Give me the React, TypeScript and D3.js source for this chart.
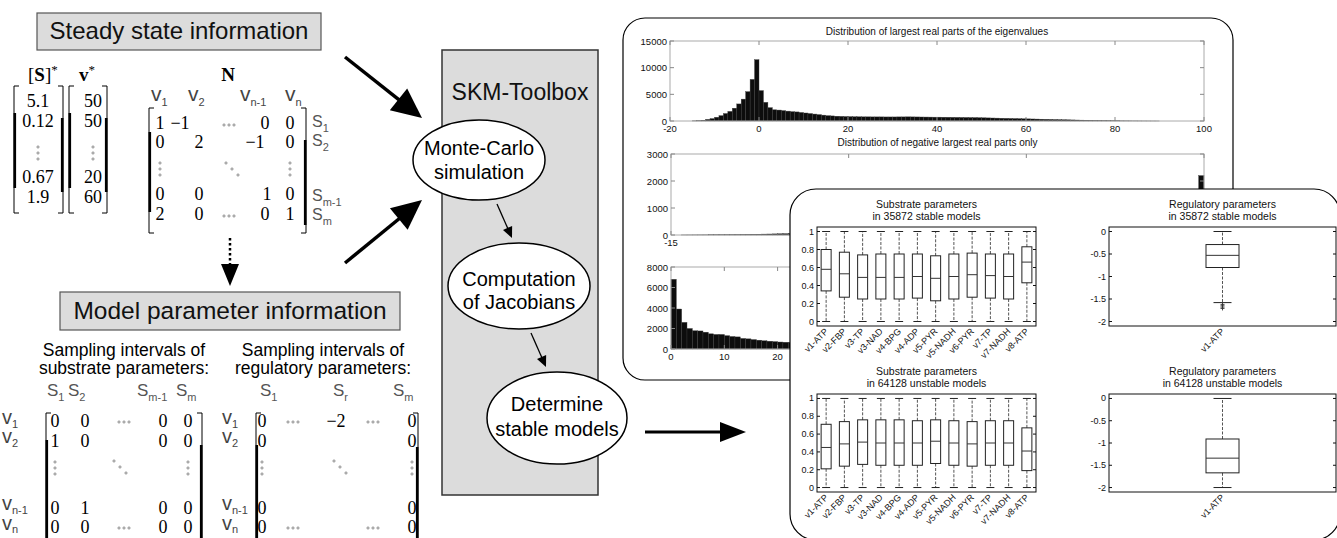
import React from 'react';
import * as d3 from 'd3';

const SANS = '"Liberation Sans", Arial, Helvetica, sans-serif';
const SERIF = '"Liberation Serif", "Times New Roman", serif';

// Largest real part of the eigenvalues, all sampled models (unit bins from -15)
const allRealStart = -15;
const allRealBinWidth = 1;
const allRealCounts = [
  30, 60, 150, 300, 450, 700, 1000, 1400, 1800, 2400, 3200, 4100, 5500, 7800, 11500,
  5700, 3500, 2500, 2100, 2050, 1950, 1850, 1750, 1700, 1600, 1500, 1400, 1300, 1200, 1100,
  1000, 950, 900, 870, 840,
  820, 800, 790, 780, 780, 770, 770, 770, 760, 760,
  760, 770, 770, 780, 770, 760, 750, 740, 730, 720,
  720, 710, 700, 690, 680, 670, 660, 650, 640, 620,
  600, 580, 560, 540, 520, 500, 480, 460, 440, 420,
  400, 380, 360, 340, 320, 300, 280, 260, 240, 220,
  200, 180, 160, 140, 120, 100, 85, 70, 60, 50,
  40, 35, 30, 25, 20, 15, 10, 8, 5, 3,
];
const allRealXTicks = [-20, 0, 20, 40, 60, 80, 100];
const allRealYTicks = [0, 5000, 10000, 15000];

// Negative largest real parts only (bins of 0.15 between -15 and 0)
const negRealStart = -15;
const negRealBinWidth = 0.15;
const negRealCounts = [
  0, 0, 2, 3, 4, 5, 6, 8, 9, 11,
  13, 15, 17, 20, 23, 26, 29, 33, 37, 41,
  45, 49, 53, 58, 63, 68, 74, 80, 86, 92,
  98, 105, 112, 120, 128, 136, 145, 154, 163, 172,
  182, 192, 203, 214, 225, 237, 249, 262, 275, 289,
  303, 318, 333, 349, 365, 382, 400, 418, 437, 457,
  478, 499, 521, 544, 568, 593, 619, 646, 674, 703,
  733, 764, 796, 829, 863, 898, 934, 971, 1009, 1048,
  1088, 1129, 1171, 1214, 1258, 1303, 1349, 1396, 1444, 1493,
  1520, 1540, 1560, 1580, 1590, 1600, 1590, 1560, 1500, 2200,
];
const negRealXTicks = [-15, -10, -5, 0];
const negRealYTicks = [0, 1000, 2000, 3000];

// Positive largest real parts only (unit bins from 0)
const posRealStart = 0;
const posRealBinWidth = 1;
const posRealCounts = [
  6800, 3900, 2600, 2000, 1780, 1760, 1640, 1480, 1420, 1420,
  1300, 1220, 1180, 1030, 990, 920, 860, 800, 760, 720,
  680, 660, 650, 640, 630, 620, 610, 600, 600, 590,
  590, 600, 600, 610, 600, 590, 580, 570, 560, 550,
  540, 530, 520, 510, 500, 490, 480, 470, 450, 440,
  420, 400, 390, 370, 350, 330, 320, 300, 280, 260,
  250, 230, 210, 200, 180, 170, 150, 140, 120, 110,
  100, 90, 80, 70, 60, 50, 45, 40, 35, 30,
  25, 20, 18, 15, 12, 10, 8, 6, 4, 2,
];
const posRealXTicks = [0, 10, 20, 30, 40, 50, 60, 70, 80, 90, 100];
const posRealYTicks = [0, 2000, 4000, 6000, 8000];

// Substrate parameter boxplots
const substrateParams = [
  'v1-ATP', 'v2-FBP', 'v3-TP', 'v3-NAD', 'v4-BPG', 'v4-ADP',
  'v5-PYR', 'v5-NADH', 'v6-PYR', 'v7-TP', 'v7-NADH', 'v8-ATP',
];
const substrateLow = [0, 0, 0, 0, 0, 0, 0, 0, 0, 0, 0, 0];
const substrateHigh = [1, 1, 1, 1, 1, 1, 1, 1, 1, 1, 1, 1];
const stableQ1 = [0.34, 0.27, 0.25, 0.25, 0.25, 0.26, 0.23, 0.25, 0.27, 0.26, 0.25, 0.43];
const stableMedian = [0.58, 0.53, 0.49, 0.49, 0.49, 0.5, 0.48, 0.5, 0.52, 0.51, 0.5, 0.66];
const stableQ3 = [0.8, 0.77, 0.74, 0.75, 0.75, 0.75, 0.73, 0.75, 0.76, 0.75, 0.75, 0.83];
const unstableQ1 = [0.21, 0.24, 0.26, 0.25, 0.25, 0.25, 0.27, 0.25, 0.24, 0.25, 0.25, 0.19];
const unstableMedian = [0.45, 0.49, 0.51, 0.5, 0.5, 0.5, 0.52, 0.5, 0.49, 0.5, 0.5, 0.41];
const unstableQ3 = [0.71, 0.74, 0.76, 0.76, 0.76, 0.75, 0.76, 0.75, 0.74, 0.75, 0.75, 0.67];
const substrateYTicks = [0, 0.2, 0.4, 0.6, 0.8, 1];

// Regulatory parameter boxplots
const regulatoryParams = ['v1-ATP'];
const regStableLow = [-1.58];
const regStableQ1 = [-0.8];
const regStableMedian = [-0.53];
const regStableQ3 = [-0.29];
const regStableHigh = [0];
const regStableOutliers = [-1.62, -1.65, -1.68, -1.71];
const regUnstableLow = [-2];
const regUnstableQ1 = [-1.67];
const regUnstableMedian = [-1.34];
const regUnstableQ3 = [-0.91];
const regUnstableHigh = [0];
const regulatoryYTicks = [-2, -1.5, -1, -0.5, 0];

type Pt = [number, number];

function Arrow({ x1, y1, x2, y2, head, half, width, dash }: any) {
  const dx = x2 - x1, dy = y2 - y1;
  const L = Math.hypot(dx, dy);
  const ux = dx / L, uy = dy / L;
  const bx = x2 - ux * head, by = y2 - uy * head;
  const px = -uy, py = ux;
  return (
    <g>
      <line x1={x1} y1={y1} x2={bx + ux * 2} y2={by + uy * 2} stroke="#000" strokeWidth={width}
        strokeDasharray={dash} />
      <path d={`M${x2},${y2}L${bx + px * half},${by + py * half}L${bx - px * half},${by - py * half}Z`} fill="#000" />
    </g>
  );
}

function Sub({ x, y, base, sub, size = 16, subSize = 11, fill = '#555', anchor = 'start', dy = 5 }: any) {
  return (
    <text x={x} y={y} fontSize={size} fill={fill} textAnchor={anchor} fontFamily={SANS}>
      {base}
      <tspan fontSize={subSize} dy={dy}>{sub}</tspan>
    </text>
  );
}

function Dots({ pts }: { pts: Pt[] }) {
  return (
    <g>
      {pts.map(([x, y], i) => (
        <circle key={i} cx={x} cy={y} r={1.1} fill="#fff" stroke="#666" strokeWidth={0.7} />
      ))}
    </g>
  );
}
const hdots = (x: number, y: number): Pt[] => [[x, y], [x + 5, y], [x + 10, y]];
const vdots = (x: number, y: number): Pt[] => [[x, y], [x, y + 6], [x, y + 12]];
const ddots = (x: number, y: number): Pt[] => [[x, y], [x + 6, y + 6], [x + 12, y + 12]];

function Bracket({ x, y1, y2, side, t1, t2, hook = 5 }: any) {
  const dir = side === 'left' ? 1 : -1;
  return (
    <g>
      <path d={`M${x + dir * hook},${y1}H${x}V${y2}H${x + dir * hook}`} fill="none" stroke="#000" strokeWidth={1} />
      <line x1={x + dir * 0.8} x2={x + dir * 0.8} y1={t1} y2={t2} stroke="#000" strokeWidth={2.6} />
    </g>
  );
}

function Num({ x, y, t }: any) {
  return <text x={x} y={y} fontSize={18} fontFamily={SERIF} textAnchor="middle" fill="#000">{t}</text>;
}

function LeftDiagram() {
  const sCol = ['5.1', '0.12', '0.67', '1.9'];
  const vCol = ['50', '50', '20', '60'];
  const colY = [107, 127, 183, 203];
  return (
    <g>
      {/* steady state information */}
      <rect x={37} y={13} width={284} height={37} fill="#dcdcdc" stroke="#555" strokeWidth={1.2} />
      <text x={179} y={39} fontSize={24} textAnchor="middle" fill="#111">Steady state information</text>

      <text x={28} y={81} fontSize={19} fontFamily={SERIF}>[<tspan fontWeight="bold">S</tspan>]<tspan fontSize={13} dy={-7}>*</tspan></text>
      <text x={79} y={81} fontSize={19} fontFamily={SERIF} fontWeight="bold">v<tspan fontSize={13} dy={-7} fontWeight="normal">*</tspan></text>
      <text x={228} y={81} fontSize={19} fontFamily={SERIF} fontWeight="bold" textAnchor="middle">N</text>

      <Bracket x={14} y1={86} y2={213} side="left" t1={113} t2={188} />
      <Bracket x={63} y1={86} y2={213} side="right" t1={118} t2={192} />
      {sCol.map((t, i) => <Num key={i} x={38} y={colY[i]} t={t} />)}
      <Dots pts={vdots(38, 147)} />

      <Bracket x={69} y1={86} y2={213} side="left" t1={113} t2={188} />
      <Bracket x={107} y1={86} y2={213} side="right" t1={118} t2={192} />
      {vCol.map((t, i) => <Num key={i} x={93} y={colY[i]} t={t} />)}
      <Dots pts={vdots(93, 147)} />

      {/* stoichiometric matrix N */}
      <Sub x={151} y={101} base="v" sub="1" size={21} fill="#444" />
      <Sub x={188} y={101} base="v" sub="2" size={21} fill="#444" />
      <Sub x={240} y={101} base="v" sub="n-1" size={21} fill="#444" />
      <Sub x={285} y={101} base="v" sub="n" size={21} fill="#444" />
      <Bracket x={149} y1={108} y2={233} side="left" t1={132} t2={212} />
      <Bracket x={306} y1={108} y2={233} side="right" t1={140} t2={225} />
      <Num x={160} y={129} t="1" /><Num x={180} y={129} t="−1" /><Num x={265} y={129} t="0" /><Num x={290} y={129} t="0" />
      <Dots pts={hdots(224, 125)} />
      <Num x={160} y={148} t="0" /><Num x={199} y={148} t="2" /><Num x={255} y={148} t="−1" /><Num x={290} y={148} t="0" />
      <Dots pts={[...vdots(160, 163), ...ddots(226, 163), ...vdots(290, 163)]} />
      <Num x={160} y={200} t="0" /><Num x={199} y={200} t="0" /><Num x={267} y={200} t="1" /><Num x={290} y={200} t="0" />
      <Num x={160} y={220} t="2" /><Num x={199} y={220} t="0" /><Num x={265} y={220} t="0" /><Num x={290} y={220} t="1" />
      <Dots pts={hdots(224, 216)} />
      <Sub x={312} y={127} base="S" sub="1" />
      <Sub x={312} y={146} base="S" sub="2" />
      <Sub x={312} y={201} base="S" sub="m-1" />
      <Sub x={312} y={220} base="S" sub="m" />

      <Arrow x1={230} y1={238} x2={230} y2={286} head={22} half={9} width={2.5} dash="2.5,2.5" />

      {/* model parameter information */}
      <rect x={60} y={292} width={340} height={38} fill="#dcdcdc" stroke="#555" strokeWidth={1.2} />
      <text x={230} y={319} fontSize={24.5} textAnchor="middle" fill="#111">Model parameter information</text>
      <text x={124} y={356} fontSize={17.5} textAnchor="middle">Sampling intervals of</text>
      <text x={124} y={374} fontSize={17.5} textAnchor="middle">substrate parameters:</text>
      <text x={323} y={356} fontSize={17.5} textAnchor="middle">Sampling intervals of</text>
      <text x={323} y={374} fontSize={17.5} textAnchor="middle">regulatory parameters:</text>

      {/* substrate sampling matrix */}
      <Sub x={47} y={396} base="S" sub="1" size={17} />
      <Sub x={68} y={396} base="S" sub="2" size={17} />
      <Sub x={137} y={396} base="S" sub="m-1" size={17} />
      <Sub x={176} y={396} base="S" sub="m" size={17} />
      <Sub x={2} y={424} base="v" sub="1" size={20} fill="#444" dy={4} />
      <Sub x={2} y={443} base="v" sub="2" size={20} fill="#444" dy={4} />
      <Sub x={2} y={510} base="v" sub="n-1" size={20} fill="#444" dy={4} />
      <Sub x={2} y={530} base="v" sub="n" size={20} fill="#444" dy={3} />
      <Bracket x={46} y1={413} y2={560} side="left" t1={440} t2={560} />
      <Bracket x={202} y1={413} y2={560} side="right" t1={445} t2={560} />
      <Num x={55} y={427} t="0" /><Num x={85} y={427} t="0" /><Num x={163} y={427} t="0" /><Num x={188} y={427} t="0" />
      <Dots pts={hdots(119, 422)} />
      <Num x={55} y={447} t="1" /><Num x={85} y={447} t="0" /><Num x={163} y={447} t="0" /><Num x={188} y={447} t="0" />
      <Dots pts={[...vdots(55, 462), ...ddots(114, 461), ...vdots(188, 462)]} />
      <Num x={55} y={514} t="0" /><Num x={85} y={514} t="1" /><Num x={163} y={514} t="0" /><Num x={188} y={514} t="0" />
      <Num x={55} y={533} t="0" /><Num x={85} y={533} t="0" /><Num x={163} y={533} t="0" /><Num x={188} y={533} t="0" />
      <Dots pts={hdots(119, 528)} />

      {/* regulatory sampling matrix */}
      <Sub x={260} y={396} base="S" sub="1" size={17} />
      <Sub x={333} y={396} base="S" sub="r" size={17} />
      <Sub x={393} y={396} base="S" sub="m" size={17} />
      <Sub x={222} y={424} base="v" sub="1" size={20} fill="#444" dy={4} />
      <Sub x={222} y={443} base="v" sub="2" size={20} fill="#444" dy={4} />
      <Sub x={222} y={510} base="v" sub="n-1" size={20} fill="#444" dy={4} />
      <Sub x={222} y={530} base="v" sub="n" size={20} fill="#444" dy={3} />
      <Bracket x={256} y1={413} y2={560} side="left" t1={445} t2={560} />
      <Bracket x={418} y1={413} y2={560} side="right" t1={447} t2={560} />
      <Num x={262} y={427} t="0" /><Num x={336} y={427} t="−2" /><Num x={412} y={427} t="0" />
      <Dots pts={[...hdots(288, 422), ...hdots(368, 422)]} />
      <Num x={262} y={447} t="0" /><Num x={412} y={447} t="0" />
      <Dots pts={[...vdots(262, 462), ...ddots(334, 461), ...vdots(412, 462)]} />
      <Num x={262} y={514} t="0" /><Num x={412} y={514} t="0" />
      <Num x={262} y={533} t="0" /><Num x={412} y={533} t="0" />
      <Dots pts={[...hdots(288, 528), ...hdots(368, 528)]} />

      <Arrow x1={345} y1={57} x2={422} y2={118} head={30} half={14} width={3.5} />
      <Arrow x1={345} y1={263} x2={422} y2={200} head={30} half={14} width={3.5} />
    </g>
  );
}

function Toolbox() {
  return (
    <g>
      <rect x={442} y={50} width={156} height={445} fill="#dcdcdc" stroke="#333" strokeWidth={1.5} />
      <text x={520} y={100} fontSize={23} textAnchor="middle" fill="#111">SKM-Toolbox</text>
      <ellipse cx={479} cy={160} rx={66} ry={40} fill="#fff" stroke="#000" strokeWidth={1.5} />
      <text x={479} y={155} fontSize={20} textAnchor="middle">Monte-Carlo</text>
      <text x={479} y={179} fontSize={20} textAnchor="middle">simulation</text>
      <Arrow x1={497} y1={204} x2={512} y2={238} head={11} half={5} width={1.3} />
      <ellipse cx={519} cy={286} rx={71} ry={43} fill="#fff" stroke="#000" strokeWidth={1.5} />
      <text x={519} y={286} fontSize={20} textAnchor="middle">Computation</text>
      <text x={519} y={309} fontSize={20} textAnchor="middle">of Jacobians</text>
      <Arrow x1={531} y1={333} x2={546} y2={367} head={11} half={5} width={1.3} />
      <ellipse cx={557} cy={418} rx={70} ry={46} fill="#fff" stroke="#000" strokeWidth={1.5} />
      <text x={557} y={411} fontSize={20} textAnchor="middle">Determine</text>
      <text x={557} y={436} fontSize={20} textAnchor="middle">stable models</text>
    </g>
  );
}

function Histogram({ left, right, top, bottom, xDomain, yMax, xTicks, yTicks, start, binWidth, counts, title, titleY }: any) {
  const x = d3.scaleLinear().domain(xDomain).range([left, right]);
  const y = d3.scaleLinear().domain([0, yMax]).range([bottom, top]);
  const tl = 4;
  return (
    <g fontFamily={SANS}>
      {counts.map((c: number, i: number) => {
        if (c <= 0) return null;
        const a = start + i * binWidth;
        return (
          <rect key={i} x={x(a)} width={x(a + binWidth) - x(a)} y={y(c)} height={y(0) - y(c)}
            fill="#0d0d0d" stroke="#3c3c3c" strokeWidth={0.4} />
        );
      })}
      <rect x={left} y={top} width={right - left} height={bottom - top} fill="none" stroke="#aaa" strokeWidth={1} />
      {xTicks.map((t: number) => (
        <g key={`x${t}`}>
          <line x1={x(t)} x2={x(t)} y1={bottom} y2={bottom - tl} stroke="#888" />
          <line x1={x(t)} x2={x(t)} y1={top} y2={top + tl} stroke="#888" />
          <text x={x(t)} y={bottom + 10.5} fontSize={9.5} textAnchor="middle" fill="#111">{t}</text>
        </g>
      ))}
      {yTicks.map((t: number) => (
        <g key={`y${t}`}>
          <line x1={left} x2={left + tl} y1={y(t)} y2={y(t)} stroke="#888" />
          <line x1={right} x2={right - tl} y1={y(t)} y2={y(t)} stroke="#888" />
          <text x={left - 3} y={y(t) + 3.5} fontSize={9.5} textAnchor="end" fill="#111">{t}</text>
        </g>
      ))}
      {title && <text x={(left + right) / 2} y={titleY} fontSize={10} textAnchor="middle" fill="#111">{title}</text>}
    </g>
  );
}

function HistPanel() {
  return (
    <g>
      <rect x={623} y={18} width={610} height={362} rx={22} fill="#fff" stroke="#000" strokeWidth={1.2} />
      <Histogram left={670} right={1204} top={41} bottom={121} xDomain={[-20, 100]} yMax={15000}
        xTicks={allRealXTicks} yTicks={allRealYTicks} start={allRealStart} binWidth={allRealBinWidth}
        counts={allRealCounts} title="Distribution of largest real parts of the eigenvalues" titleY={35} />
      <Histogram left={671} right={1204} top={154} bottom={235} xDomain={[-15, 0]} yMax={3000}
        xTicks={negRealXTicks} yTicks={negRealYTicks} start={negRealStart} binWidth={negRealBinWidth}
        counts={negRealCounts} title="Distribution of negative largest real parts only" titleY={146} />
      <Histogram left={671} right={1204} top={267} bottom={349} xDomain={[0, 100]} yMax={8000}
        xTicks={posRealXTicks} yTicks={posRealYTicks} start={posRealStart} binWidth={posRealBinWidth}
        counts={posRealCounts} />
    </g>
  );
}

function BoxPlot({ left, right, top, bottom, domain, yTicks, names, low, q1, med, q3, high, outliers = [], boxW, capW, title1, title2 }: any) {
  const x = d3.scalePoint<string>().domain(names).range([left, right]).padding(0.5);
  const y = d3.scaleLinear().domain(domain).range([bottom, top]);
  return (
    <g fontFamily={SANS}>
      <text x={(left + right) / 2} y={top - 19} fontSize={10.5} textAnchor="middle" fill="#111">{title1}</text>
      <text x={(left + right) / 2} y={top - 7} fontSize={10.5} textAnchor="middle" fill="#111">{title2}</text>
      <rect x={left} y={top} width={right - left} height={bottom - top} fill="#fff" stroke="#111" strokeWidth={1} />
      {yTicks.map((t: number) => (
        <g key={t}>
          <line x1={left} x2={left + 3} y1={y(t)} y2={y(t)} stroke="#111" />
          <line x1={right} x2={right - 3} y1={y(t)} y2={y(t)} stroke="#111" />
          <text x={left - 3} y={y(t) + 3} fontSize={9} textAnchor="end" fill="#111">{t}</text>
        </g>
      ))}
      {names.map((n: string, i: number) => {
        const cx = x(n) as number;
        return (
          <g key={n}>
            <line x1={cx} x2={cx} y1={y(q3[i])} y2={y(high[i])} stroke="#555" strokeDasharray="3,1.5" />
            <line x1={cx} x2={cx} y1={y(q1[i])} y2={y(low[i])} stroke="#555" strokeDasharray="3,1.5" />
            <line x1={cx - capW / 2} x2={cx + capW / 2} y1={y(high[i])} y2={y(high[i])} stroke="#222" />
            <line x1={cx - capW / 2} x2={cx + capW / 2} y1={y(low[i])} y2={y(low[i])} stroke="#222" />
            <rect x={cx - boxW / 2} y={y(q3[i])} width={boxW} height={y(q1[i]) - y(q3[i])} fill="none" stroke="#222" strokeWidth={1} />
            <line x1={cx - boxW / 2} x2={cx + boxW / 2} y1={y(med[i])} y2={y(med[i])} stroke="#333" strokeWidth={1} />
            {outliers.map((o: number, k: number) => (
              <path key={k} d={`M${cx - 2},${y(o)}h4M${cx},${y(o) - 2}v4`} stroke="#333" strokeWidth={0.9} />
            ))}
            <text transform={`translate(${cx + 2.5},${bottom + 6}) rotate(-45)`} fontSize={9} textAnchor="end" fill="#111">{n}</text>
          </g>
        );
      })}
    </g>
  );
}

function BoxplotPanel() {
  return (
    <g>
      <rect x={790} y={189} width={550} height={351} rx={26} fill="#fff" stroke="#000" strokeWidth={1.2} />
      <BoxPlot left={817} right={1036} top={227} bottom={326} domain={[-0.05, 1.05]} yTicks={substrateYTicks}
        names={substrateParams} low={substrateLow} q1={stableQ1} med={stableMedian} q3={stableQ3} high={substrateHigh}
        boxW={10} capW={8} title1="Substrate parameters" title2=" in 35872 stable models" />
      <BoxPlot left={1109} right={1336} top={227} bottom={326} domain={[-2.1, 0.1]} yTicks={regulatoryYTicks}
        names={regulatoryParams} low={regStableLow} q1={regStableQ1} med={regStableMedian} q3={regStableQ3}
        high={regStableHigh} outliers={regStableOutliers}
        boxW={33} capW={18} title1="Regulatory parameters" title2=" in 35872 stable models" />
      <BoxPlot left={817} right={1036} top={394} bottom={492} domain={[-0.05, 1.05]} yTicks={substrateYTicks}
        names={substrateParams} low={substrateLow} q1={unstableQ1} med={unstableMedian} q3={unstableQ3} high={substrateHigh}
        boxW={10} capW={8} title1="Substrate parameters" title2=" in 64128 unstable models" />
      <BoxPlot left={1109} right={1336} top={394} bottom={492} domain={[-2.1, 0.1]} yTicks={regulatoryYTicks}
        names={regulatoryParams} low={regUnstableLow} q1={regUnstableQ1} med={regUnstableMedian} q3={regUnstableQ3}
        high={regUnstableHigh}
        boxW={33} capW={18} title1="Regulatory parameters" title2=" in 64128 unstable models" />
    </g>
  );
}

export default function App() {
  return (
    <svg width={1337} height={538} viewBox="0 0 1337 538" fontFamily={SANS}
      style={{ position: 'absolute', left: 0, top: 0, display: 'block', background: '#fff' }}>
      <rect width={1337} height={538} fill="#fff" />
      <LeftDiagram />
      <Toolbox />
      <HistPanel />
      <BoxplotPanel />
      <Arrow x1={645} y1={432} x2={746} y2={432} head={26} half={10} width={3} />
    </svg>
  );
}
